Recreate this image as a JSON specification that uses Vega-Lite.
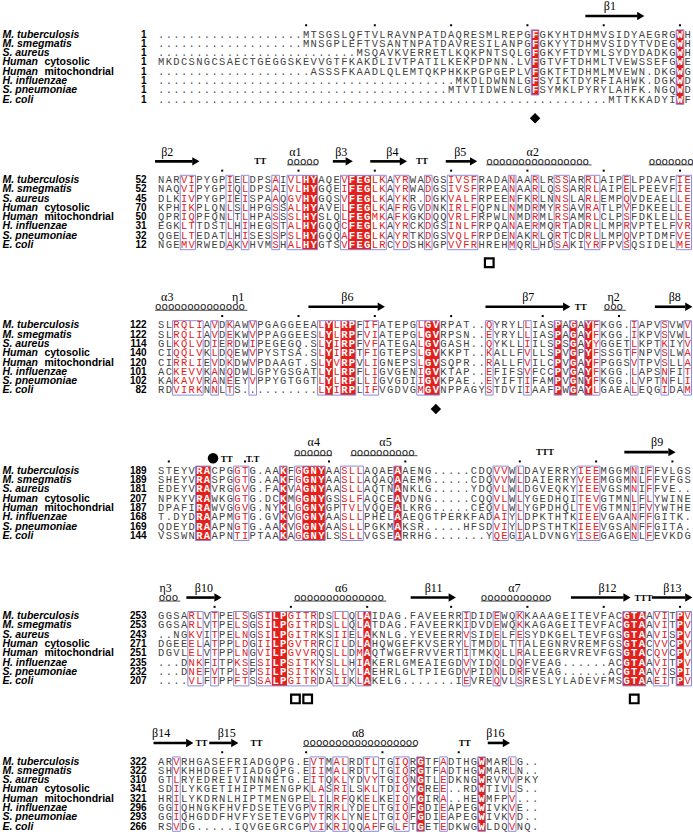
{
"$schema": "https://vega.github.io/schema/vega-lite/v6.json",
"padding": 0,
"bounds": "flush",
"background": "white",
"config": {"view": {"stroke": null}},
"data": {"values": [
{"t":"s","b":1,"r":1,"n":"M. tuberculosis","num":"1","s":[".",".",".",".",".",".",".",".",".",".",".",".",".",".",".",".",".",".",".","M","T","S","G","S","L","Q","F","T","V","L","R","A","V","N","P","A","T","D","A","Q","R","E","S","M","L","R","E","P","G","F","G","K","Y","H","T","D","H","M","V","S","I","D","Y","A","E","G","R","G","W","H"]},
{"t":"s","b":1,"r":2,"n":"M. smegmatis","num":"1","s":[".",".",".",".",".",".",".",".",".",".",".",".",".",".",".",".",".",".",".","M","N","S","G","P","L","E","F","T","V","S","A","N","T","N","P","A","T","D","A","V","R","E","S","I","L","A","N","P","G","F","G","K","Y","Y","T","D","H","M","V","S","I","D","Y","T","V","D","E","G","W","H"]},
{"t":"s","b":1,"r":3,"n":"S. aureus","num":"1","s":[".",".",".",".",".",".",".",".",".",".",".",".",".",".",".",".",".",".",".",".",".",".",".",".",".",".","M","S","Q","A","V","K","V","E","R","R","E","T","L","K","Q","K","P","N","T","S","Q","L","G","F","G","K","Y","F","T","D","Y","M","L","S","Y","D","Y","D","A","D","K","G","W","H"]},
{"t":"s","b":1,"r":4,"n":"Human","n2":"cytosolic","num":"1","s":["M","K","D","C","S","N","G","C","S","A","E","C","T","G","E","G","G","S","K","E","V","V","G","T","F","K","A","K","D","L","I","V","T","P","A","T","I","L","K","E","K","P","D","P","N","N",".","L","V","F","G","T","V","F","T","D","H","M","L","T","V","E","W","S","S","E","F","G","W","E"]},
{"t":"s","b":1,"r":5,"n":"Human","n2":"mitochondrial","num":"1","s":[".",".",".",".",".",".",".",".",".",".",".",".",".",".",".",".",".",".",".",".","A","S","S","S","F","K","A","A","D","L","Q","L","E","M","T","Q","K","P","H","K","K","P","G","P","G","E","P","L","V","F","G","K","T","F","T","D","H","M","L","M","V","E","W","N",".","D","K","G","W","G"]},
{"t":"s","b":1,"r":6,"n":"H. influenzae","num":"1","s":[".",".",".",".",".",".",".",".",".",".",".",".",".",".",".",".",".",".",".",".",".",".",".",".",".",".",".",".",".",".",".",".",".",".",".",".",".",".",".","M","K","D","L","D","W","N","N","L","G","F","S","Y","I","K","T","D","Y","R","F","I","A","H","W","K",".","D","G","K","W","D"]},
{"t":"s","b":1,"r":7,"n":"S. pneumoniae","num":"1","s":[".",".",".",".",".",".",".",".",".",".",".",".",".",".",".",".",".",".",".",".",".",".",".",".",".",".",".",".",".",".",".",".",".",".",".",".",".",".","M","T","V","T","I","D","W","E","N","L","G","F","S","Y","M","K","L","P","Y","R","Y","L","A","H","F","K",".","N","G","Q","W","D"]},
{"t":"s","b":1,"r":8,"n":"E. coli","num":"1","s":[".",".",".",".",".",".",".",".",".",".",".",".",".",".",".",".",".",".",".",".",".",".",".",".",".",".",".",".",".",".",".",".",".",".",".",".",".",".",".",".",".",".",".",".",".",".",".",".",".",".",".",".",".",".",".",".",".",".",".","M","T","T","K","K","A","D","Y","I","W","F"]},
{"t":"s","b":2,"r":1,"n":"M. tuberculosis","num":"52","s":["N","A","R","V","I","P","Y","G","P","I","E","L","D","P","S","A","I","V","L","H","Y","A","Q","E","V","F","E","G","L","K","A","Y","R","W","A","D","G","S","I","V","S","F","R","A","D","A","N","A","A","R","L","R","S","S","A","R","R","L","A","I","P","E","L","P","D","A","V","F","I","E"]},
{"t":"s","b":2,"r":2,"n":"M. smegmatis","num":"52","s":["N","A","Q","V","I","P","Y","G","P","I","Q","L","D","P","S","A","I","V","L","H","Y","G","Q","E","I","F","E","G","L","K","A","Y","R","W","A","D","G","S","I","V","S","F","R","P","E","A","N","A","A","R","L","Q","S","S","A","R","R","L","A","I","P","E","L","P","E","E","V","F","I","E"]},
{"t":"s","b":2,"r":3,"n":"S. aureus","num":"45","s":["D","L","K","I","V","P","Y","G","P","I","E","I","S","P","A","A","Q","G","V","H","Y","G","Q","S","V","F","E","G","L","K","A","Y","K","R",".","D","G","K","V","A","L","F","R","P","E","E","N","F","K","R","L","N","N","S","L","A","R","L","E","M","P","Q","V","D","E","A","E","L","L","E"]},
{"t":"s","b":2,"r":4,"n":"Human","n2":"cytosolic","num":"70","s":["K","P","H","I","K","P","L","Q","N","L","S","L","H","P","G","S","S","A","L","H","Y","A","V","E","L","F","E","G","L","K","A","F","R","G","V","D","N","K","I","R","L","F","Q","P","N","L","N","M","D","R","M","Y","R","S","A","V","R","A","T","L","P","V","F","D","K","E","E","L","L","E"]},
{"t":"s","b":2,"r":5,"n":"Human","n2":"mitochondrial","num":"50","s":["Q","P","R","I","Q","P","F","Q","N","L","T","L","H","P","A","S","S","S","L","H","Y","S","L","Q","L","F","E","G","M","K","A","F","K","G","K","D","Q","Q","V","R","L","F","R","P","W","L","N","M","D","R","M","L","R","S","A","M","R","L","C","L","P","S","F","D","K","L","E","L","L","E"]},
{"t":"s","b":2,"r":6,"n":"H. influenzae","num":"31","s":["E","G","K","L","T","T","D","S","T","L","H","I","H","E","G","S","T","A","L","H","Y","G","Q","Q","C","F","E","G","L","K","A","Y","R","C","K","D","G","S","I","N","L","F","R","P","Q","A","N","A","E","R","M","Q","R","T","A","D","R","L","L","M","P","R","V","P","T","E","L","F","V","R"]},
{"t":"s","b":2,"r":7,"n":"S. pneumoniae","num":"32","s":["Q","G","E","L","T","E","D","A","T","L","H","I","S","E","S","S","P","S","L","H","Y","G","Q","Q","A","F","E","G","L","K","A","Y","R","T","K","D","G","S","V","Q","L","F","R","P","D","E","N","A","K","R","L","Q","R","T","C","D","R","L","L","M","P","Q","V","P","T","D","M","F","V","E"]},
{"t":"s","b":2,"r":8,"n":"E. coli","num":"12","s":["N","G","E","M","V","R","W","E","D","A","K","V","H","V","M","S","H","A","L","H","Y","G","T","S","V","F","E","G","L","R","C","Y","D","S","H","K","G","P","V","V","F","R","H","R","E","H","M","Q","R","L","H","D","S","A","K","I","Y","R","F","P","V","S","Q","S","I","D","E","L","M","E"]},
{"t":"s","b":3,"r":1,"n":"M. tuberculosis","num":"122","s":["S","L","R","Q","L","I","A","V","D","K","A","W","V","P","G","A","G","G","E","E","A","L","Y","L","R","P","F","I","F","A","T","E","P","G","L","G","V","R","P","A","T",".",".","Q","Y","R","Y","L","L","I","A","S","P","A","G","A","Y","F","K","G","G",".","I","A","P","V","S","V","W","V"]},
{"t":"s","b":3,"r":2,"n":"M. smegmatis","num":"122","s":["S","L","R","Q","L","I","A","V","D","E","K","W","V","P","P","A","G","G","E","E","S","L","Y","L","R","P","F","V","I","A","T","E","P","G","L","G","V","R","P","S","N",".",".","E","Y","R","Y","L","L","I","A","S","P","A","G","A","Y","F","K","G","G",".","I","K","P","V","S","V","W","L"]},
{"t":"s","b":3,"r":3,"n":"S. aureus","num":"114","s":["G","L","K","Q","L","V","D","I","E","R","D","W","I","P","E","G","E","G","Q",".","S","L","Y","I","R","P","F","V","F","A","T","E","G","A","L","G","V","G","A","S","H",".",".","Q","Y","K","L","L","I","I","L","S","P","S","G","A","Y","Y","G","G","E","T","L","K","P","T","K","I","Y","V"]},
{"t":"s","b":3,"r":4,"n":"Human","n2":"cytosolic","num":"140","s":["C","I","Q","Q","L","V","K","L","D","Q","E","W","V","P","Y","S","T","S","A",".","S","L","Y","I","R","P","T","F","I","G","T","E","P","S","L","G","V","K","K","P","T",".",".","K","A","L","L","F","V","L","L","S","P","V","G","P","Y","F","S","S","G","T","F","N","P","V","S","L","W","A"]},
{"t":"s","b":3,"r":5,"n":"Human","n2":"mitochondrial","num":"120","s":["C","I","R","R","L","I","E","V","D","K","D","W","V","P","D","A","A","G","T",".","S","L","Y","V","R","P","V","L","I","G","N","E","P","S","L","G","V","S","Q","P","R",".",".","R","A","L","L","F","V","I","L","C","P","V","G","A","Y","F","P","G","G","S","V","T","P","V","S","L","L","A"]},
{"t":"s","b":3,"r":6,"n":"H. influenzae","num":"101","s":["A","C","K","E","V","V","K","A","N","Q","D","W","L","G","P","Y","G","S","G","A","T","L","Y","L","R","P","F","L","I","G","V","G","E","N","I","G","V","K","T","A","P",".",".","E","F","I","F","S","V","F","C","C","P","V","G","A","Y","F","K","G","G",".","L","A","P","S","N","F","I","T"]},
{"t":"s","b":3,"r":7,"n":"S. pneumoniae","num":"102","s":["K","A","K","A","V","V","R","A","N","E","E","Y","V","P","P","Y","G","T","G","G","T","L","Y","L","R","P","L","L","I","G","V","G","D","I","I","G","V","K","P","A","E",".",".","E","Y","I","F","T","I","F","A","M","P","V","G","N","Y","F","K","G","G",".","L","V","P","T","N","F","L","I"]},
{"t":"s","b":3,"r":8,"n":"E. coli","num":"82","s":["R","D","V","I","R","K","N","N","L","T","S",".",".",".",".",".",".",".",".",".",".","L","Y","I","R","P","L","I","F","V","G","D","V","G","M","G","V","N","P","P","A","G","Y","S","T","D","V","I","I","A","A","F","P","W","G","A","Y","L","G","A","E","A","L","E","Q","G","I","D","A","M"]},
{"t":"s","b":4,"r":1,"n":"M. tuberculosis","num":"189","s":["S","T","E","Y","V","R","A","C","P","G","G","T","G",".","A","A","K","F","G","G","N","Y","A","A","S","L","L","A","Q","A","E","A","A","E","N","G",".",".",".",".",".","C","D","Q","V","V","W","L","D","A","V","E","R","R","Y","I","E","E","M","G","G","M","N","I","F","F","V","L","G","S"]},
{"t":"s","b":4,"r":2,"n":"M. smegmatis","num":"189","s":["S","H","E","Y","V","R","A","S","P","G","G","T","G",".","A","A","K","F","G","G","N","Y","A","A","S","L","L","A","Q","A","Q","A","A","E","M","G",".",".",".",".",".","C","D","Q","V","V","W","L","D","A","I","E","R","R","Y","V","E","E","M","G","G","M","N","L","F","F","V","F","G","S"]},
{"t":"s","b":4,"r":3,"n":"S. aureus","num":"181","s":["E","D","E","Y","V","R","A","V","R","G","G","V","G",".","F","A","K","V","A","G","N","Y","A","A","S","L","L","A","Q","T","N","A","N","K","L","G",".",".",".",".",".","Y","D","Q","V","L","W","L","D","G","V","E","Q","K","Y","I","E","E","V","G","S","M","N","I","F","F","V","E",".","."]},
{"t":"s","b":4,"r":4,"n":"Human","n2":"cytosolic","num":"207","s":["N","P","K","Y","V","R","A","W","K","G","G","T","G",".","D","C","K","M","G","G","N","Y","G","S","S","L","F","A","Q","C","E","A","V","D","N","G",".",".",".",".",".","C","Q","Q","V","L","W","L","Y","G","E","D","H","Q","I","T","E","V","G","T","M","N","L","F","L","Y","W","I","N","E"]},
{"t":"s","b":4,"r":5,"n":"Human","n2":"mitochondrial","num":"187","s":["D","P","A","F","I","R","A","W","V","G","G","V","G",".","N","Y","K","L","G","G","N","Y","G","P","T","V","L","V","Q","Q","E","A","L","K","R","G",".",".",".",".",".","C","E","Q","V","L","W","L","Y","G","P","D","H","Q","L","T","E","V","G","T","M","N","I","F","V","Y","W","T","H","E"]},
{"t":"s","b":4,"r":6,"n":"H. influenzae","num":"168","s":["T",".","D","Y","D","R","A","A","P","M","G","T","G",".","G","V","K","V","G","G","N","Y","A","A","S","L","L","P","H","E","L","A","A","E","Q","G","T","P","E","R","K","F","A","D","A","I","Y","L","D","P","K","T","H","T","K","I","E","E","V","G","A","A","N","F","F","G","I","T","K","."]},
{"t":"s","b":4,"r":7,"n":"S. pneumoniae","num":"169","s":["Q","D","E","Y","D","R","A","A","P","N","G","T","G",".","A","A","K","V","G","G","N","Y","A","A","S","L","L","P","G","K","M","A","K","S","R",".",".",".",".",".","H","F","S","D","V","I","Y","L","D","P","S","T","H","T","K","I","E","E","V","G","S","A","N","F","F","G","I","T","A","."]},
{"t":"s","b":4,"r":8,"n":"E. coli","num":"144","s":["V","S","S","W","N","R","A","A","P","N","T","I","P","T","A","A","K","A","G","G","N","Y","L","S","S","L","L","V","G","S","E","A","R","R","H","G",".",".",".",".",".",".",".","Y","Q","E","G","I","A","L","D","V","N","G","Y","I","S","E","G","A","G","E","N","L","F","E","V","K","D","G"]},
{"t":"s","b":5,"r":1,"n":"M. tuberculosis","num":"253","s":["G","G","S","A","R","L","V","T","P","E","L","S","G","S","I","L","P","G","I","T","R","D","S","L","L","Q","L","A","I","D","A","G",".","F","A","V","E","E","R","R","I","D","I","D","E","W","Q","K","K","A","A","A","G","E","I","T","E","V","F","A","C","G","T","A","A","V","I","T","P","V"]},
{"t":"s","b":5,"r":2,"n":"M. smegmatis","num":"253","s":["G","G","S","A","R","L","V","T","P","E","L","S","G","S","I","L","P","G","I","T","R","D","S","L","L","Q","L","A","T","D","A","G",".","F","A","V","E","E","R","K","I","D","V","D","E","W","Q","K","K","A","G","A","G","E","I","T","E","V","F","A","C","G","T","A","A","V","I","T","P","V"]},
{"t":"s","b":5,"r":3,"n":"S. aureus","num":"243","s":[".",".","N","G","K","V","I","T","P","E","L","N","G","S","I","L","P","G","I","T","R","K","S","I","I","E","L","A","K","N","L","G",".","Y","E","V","E","E","R","R","V","S","I","D","E","L","F","E","S","Y","D","K","G","E","L","T","E","V","F","G","S","G","T","A","A","V","I","S","P","V"]},
{"t":"s","b":5,"r":4,"n":"Human","n2":"cytosolic","num":"271","s":["D","G","E","E","E","L","A","T","P","P","L","D","G","I","I","L","P","G","V","T","R","R","C","I","L","D","L","A","H","Q","W","G","E","F","K","V","S","E","R","Y","L","T","M","D","D","L","T","T","A","L","E","G","N","R","V","R","E","M","F","G","S","G","T","A","C","V","V","C","P","V"]},
{"t":"s","b":5,"r":5,"n":"Human","n2":"mitochondrial","num":"251","s":["D","G","V","L","E","L","V","T","P","P","L","N","G","V","I","L","P","G","V","V","R","Q","S","L","L","D","M","A","Q","T","W","G","E","F","R","V","V","E","R","T","I","T","M","K","Q","L","L","R","A","L","E","E","G","R","V","R","E","V","F","G","S","G","T","A","C","Q","V","C","P","V"]},
{"t":"s","b":5,"r":6,"n":"H. influenzae","num":"235","s":[".",".",".","D","N","K","F","I","T","P","K","S","E","S","I","L","P","S","I","T","K","Y","S","L","L","H","I","A","K","E","R","L","G","M","E","A","I","E","G","D","V","Y","I","D","Q","L","D","Q","F","V","E","A","G",".",".",".",".",".",".","A","C","G","T","A","A","V","I","T","P","V"]},
{"t":"s","b":5,"r":7,"n":"S. pneumoniae","num":"232","s":[".",".",".","D","N","E","F","V","T","P","L","S","P","S","I","L","P","S","I","T","K","Y","S","L","L","Y","L","A","E","H","R","L","G","L","T","P","I","E","G","D","V","P","I","D","N","L","D","R","F","V","E","A","G",".",".",".",".",".",".","A","C","G","T","A","A","V","I","S","P","I"]},
{"t":"s","b":5,"r":8,"n":"E. coli","num":"207","s":[".",".",".",".","V","L","F","T","P","P","F","T","S","S","A","L","P","G","I","T","R","D","A","I","I","K","L","A","K","E","L","G",".",".",".",".",".",".",".","I","E","V","R","E","Q","V","L","S","R","E","S","L","Y","L","A","D","E","V","F","M","S","G","T","A","A","E","I","T","P","V"]},
{"t":"s","b":6,"r":1,"n":"M. tuberculosis","num":"322","s":["A","R","V","R","H","G","A","S","E","F","R","I","A","D","G","Q","P","G",".","E","V","T","M","A","L","R","D","T","L","T","G","I","Q","R","G","T","F","A","D","T","H","G","W","M","A","R","L","G",".","."]},
{"t":"s","b":6,"r":2,"n":"M. smegmatis","num":"322","s":["S","H","V","K","H","H","D","G","E","F","T","I","A","D","G","Q","P","G",".","E","I","I","M","A","L","R","D","T","L","T","G","I","Q","R","G","T","F","A","D","T","H","G","W","M","A","R","L","N",".","."]},
{"t":"s","b":6,"r":3,"n":"S. aureus","num":"310","s":["G","T","L","R","Y","E","D","R","E","I","V","I","N","N","N","E","T","G",".","E","I","T","Q","K","L","Y","D","V","Y","T","G","I","Q","N","G","T","L","E","D","K","N","G","W","R","V","V","V","P","K","Y"]},
{"t":"s","b":6,"r":4,"n":"Human","n2":"cytosolic","num":"341","s":["S","D","I","L","Y","K","G","E","T","I","H","I","P","T","M","E","N","G","P","K","L","A","S","R","I","L","S","K","L","T","D","I","Q","Y","G","R","E","E",".",".","R","D","W","T","I","V","L","S",".","."]},
{"t":"s","b":6,"r":5,"n":"Human","n2":"mitochondrial","num":"321","s":["H","R","I","L","Y","K","D","R","N","L","H","I","P","T","M","E","N","G","P","E","L","I","L","R","F","Q","K","E","L","K","E","I","Q","Y","G","I","R","A",".",".","H","E","W","M","F","P","V",".",".","."]},
{"t":"s","b":6,"r":6,"n":"H. influenzae","num":"296","s":["G","G","I","Q","H","N","G","K","F","H","V","F","D","S","E","T","E","V","G","P","V","T","R","R","L","Y","D","E","L","T","G","I","Q","F","G","D","I","E","A","P","E","G","W","I","V","K","V","E",".","."]},
{"t":"s","b":6,"r":7,"n":"S. pneumoniae","num":"293","s":["G","G","I","Q","H","G","D","D","F","H","V","F","Y","S","E","T","E","V","G","P","V","T","R","K","L","Y","N","E","L","T","G","I","Q","F","G","D","I","E","A","P","E","G","W","I","V","K","V","D",".","."]},
{"t":"s","b":6,"r":8,"n":"E. coli","num":"266","s":["R","S","V","D","G",".",".",".",".",".","I","Q","V","G","E","G","R","C","G","P","V","I","K","R","I","Q","Q","A","F","F","G","L","F","T","G","E","T","E","D","K","W","G","W","L","D","Q","V","N","Q","."]},

{"t":"red","b":1,"x1":49.5,"x2":50.5,"y1":0.5,"y2":7.5},
{"t":"red","b":1,"x1":68.5,"x2":69.5,"y1":0.5,"y2":8.5},
{"t":"red","b":2,"x1":19.5,"x2":21.5,"y1":0.5,"y2":8.5},
{"t":"red","b":2,"x1":25.5,"x2":28.5,"y1":0.5,"y2":8.5},
{"t":"red","b":3,"x1":22.5,"x2":23.5,"y1":0.5,"y2":8.5},
{"t":"red","b":3,"x1":24.5,"x2":26.5,"y1":0.5,"y2":8.5},
{"t":"red","b":3,"x1":35.5,"x2":37.5,"y1":0.5,"y2":8.5},
{"t":"red","b":3,"x1":52.5,"x2":53.5,"y1":0.5,"y2":8.5},
{"t":"red","b":3,"x1":54.5,"x2":55.5,"y1":0.5,"y2":8.5},
{"t":"red","b":3,"x1":56.5,"x2":57.5,"y1":0.5,"y2":8.5},
{"t":"red","b":4,"x1":5.5,"x2":7.5,"y1":0.5,"y2":8.5},
{"t":"red","b":4,"x1":16.5,"x2":17.5,"y1":0.5,"y2":8.5},
{"t":"red","b":4,"x1":19.5,"x2":22.5,"y1":0.5,"y2":8.5},
{"t":"red","b":4,"x1":31.5,"x2":32.5,"y1":0.5,"y2":8.5},
{"t":"red","b":5,"x1":15.5,"x2":17.5,"y1":0.5,"y2":8.5},
{"t":"red","b":5,"x1":27.5,"x2":28.5,"y1":0.5,"y2":8.5},
{"t":"red","b":5,"x1":61.5,"x2":64.5,"y1":0.5,"y2":8.5},
{"t":"red","b":5,"x1":68.5,"x2":69.5,"y1":0.5,"y2":8.5},
{"t":"red","b":6,"x1":34.5,"x2":35.5,"y1":0.5,"y2":8.5},
{"t":"red","b":6,"x1":42.5,"x2":43.5,"y1":0.5,"y2":8.5},

{"t":"box","b":1,"x1":49.5,"x2":50.5,"y1":0.5,"y2":7.5},
{"t":"box","b":1,"x1":68.5,"x2":69.5,"y1":0.5,"y2":8.5},
{"t":"box","b":2,"x1":3.5,"x2":5.5,"y1":0.5,"y2":8.5},
{"t":"box","b":2,"x1":9.5,"x2":10.5,"y1":0.5,"y2":8.5},
{"t":"box","b":2,"x1":11.5,"x2":12.5,"y1":0.5,"y2":8.5},
{"t":"box","b":2,"x1":15.5,"x2":16.5,"y1":0.5,"y2":8.5},
{"t":"box","b":2,"x1":17.5,"x2":21.5,"y1":0.5,"y2":8.5},
{"t":"box","b":2,"x1":24.5,"x2":30.5,"y1":0.5,"y2":8.5},
{"t":"box","b":2,"x1":31.5,"x2":33.5,"y1":0.5,"y2":8.5},
{"t":"box","b":2,"x1":35.5,"x2":36.5,"y1":0.5,"y2":8.5},
{"t":"box","b":2,"x1":38.5,"x2":42.5,"y1":0.5,"y2":8.5},
{"t":"box","b":2,"x1":46.5,"x2":47.5,"y1":0.5,"y2":8.5},
{"t":"box","b":2,"x1":49.5,"x2":50.5,"y1":0.5,"y2":8.5},
{"t":"box","b":2,"x1":52.5,"x2":54.5,"y1":0.5,"y2":8.5},
{"t":"box","b":2,"x1":56.5,"x2":58.5,"y1":0.5,"y2":8.5},
{"t":"box","b":2,"x1":61.5,"x2":62.5,"y1":0.5,"y2":8.5},
{"t":"box","b":2,"x1":68.5,"x2":70.5,"y1":0.5,"y2":8.5},
{"t":"box","b":3,"x1":2.5,"x2":6.5,"y1":0.5,"y2":8.5},
{"t":"box","b":3,"x1":7.5,"x2":8.5,"y1":0.5,"y2":8.5},
{"t":"box","b":3,"x1":9.5,"x2":10.5,"y1":0.5,"y2":8.5},
{"t":"box","b":3,"x1":12.5,"x2":13.5,"y1":0.5,"y2":8.5},
{"t":"box","b":3,"x1":21.5,"x2":26.5,"y1":0.5,"y2":8.5},
{"t":"box","b":3,"x1":27.5,"x2":29.5,"y1":0.5,"y2":8.5},
{"t":"box","b":3,"x1":34.5,"x2":37.5,"y1":0.5,"y2":8.5},
{"t":"box","b":3,"x1":43.5,"x2":44.5,"y1":0.5,"y2":8.5},
{"t":"box","b":3,"x1":48.5,"x2":49.5,"y1":0.5,"y2":8.5},
{"t":"box","b":3,"x1":52.5,"x2":53.5,"y1":0.5,"y2":8.5},
{"t":"box","b":3,"x1":54.5,"x2":55.5,"y1":0.5,"y2":8.5},
{"t":"box","b":3,"x1":56.5,"x2":58.5,"y1":0.5,"y2":8.5},
{"t":"box","b":3,"x1":62.5,"x2":63.5,"y1":0.5,"y2":8.5},
{"t":"box","b":3,"x1":66.5,"x2":67.5,"y1":0.5,"y2":8.5},
{"t":"box","b":3,"x1":69.5,"x2":70.5,"y1":0.5,"y2":8.5},
{"t":"box","b":4,"x1":5.5,"x2":7.5,"y1":0.5,"y2":8.5},
{"t":"box","b":4,"x1":10.5,"x2":12.5,"y1":0.5,"y2":8.5},
{"t":"box","b":4,"x1":16.5,"x2":17.5,"y1":0.5,"y2":8.5},
{"t":"box","b":4,"x1":18.5,"x2":22.5,"y1":0.5,"y2":8.5},
{"t":"box","b":4,"x1":24.5,"x2":27.5,"y1":0.5,"y2":8.5},
{"t":"box","b":4,"x1":31.5,"x2":32.5,"y1":0.5,"y2":8.5},
{"t":"box","b":4,"x1":44.5,"x2":46.5,"y1":0.5,"y2":8.5},
{"t":"box","b":4,"x1":47.5,"x2":48.5,"y1":0.5,"y2":8.5},
{"t":"box","b":4,"x1":55.5,"x2":58.5,"y1":0.5,"y2":8.5},
{"t":"box","b":4,"x1":62.5,"x2":63.5,"y1":0.5,"y2":8.5},
{"t":"box","b":4,"x1":64.5,"x2":65.5,"y1":0.5,"y2":8.5},
{"t":"box","b":5,"x1":4.5,"x2":6.5,"y1":0.5,"y2":8.5},
{"t":"box","b":5,"x1":7.5,"x2":8.5,"y1":0.5,"y2":8.5},
{"t":"box","b":5,"x1":10.5,"x2":12.5,"y1":0.5,"y2":8.5},
{"t":"box","b":5,"x1":13.5,"x2":21.5,"y1":0.5,"y2":8.5},
{"t":"box","b":5,"x1":23.5,"x2":25.5,"y1":0.5,"y2":8.5},
{"t":"box","b":5,"x1":26.5,"x2":28.5,"y1":0.5,"y2":8.5},
{"t":"box","b":5,"x1":40.5,"x2":41.5,"y1":0.5,"y2":8.5},
{"t":"box","b":5,"x1":44.5,"x2":45.5,"y1":0.5,"y2":8.5},
{"t":"box","b":5,"x1":47.5,"x2":48.5,"y1":0.5,"y2":8.5},
{"t":"box","b":5,"x1":61.5,"x2":64.5,"y1":0.5,"y2":8.5},
{"t":"box","b":5,"x1":65.5,"x2":67.5,"y1":0.5,"y2":8.5},
{"t":"box","b":5,"x1":68.5,"x2":70.5,"y1":0.5,"y2":8.5},
{"t":"box","b":6,"x1":2.5,"x2":3.5,"y1":0.5,"y2":8.5},
{"t":"box","b":6,"x1":20.5,"x2":22.5,"y1":0.5,"y2":8.5},
{"t":"box","b":6,"x1":23.5,"x2":25.5,"y1":0.5,"y2":8.5},
{"t":"box","b":6,"x1":27.5,"x2":29.5,"y1":0.5,"y2":8.5},
{"t":"box","b":6,"x1":31.5,"x2":33.5,"y1":0.5,"y2":8.5},
{"t":"box","b":6,"x1":34.5,"x2":35.5,"y1":0.5,"y2":8.5},
{"t":"box","b":6,"x1":37.5,"x2":38.5,"y1":0.5,"y2":8.5},
{"t":"box","b":6,"x1":42.5,"x2":43.5,"y1":0.5,"y2":8.5},
{"t":"box","b":6,"x1":46.5,"x2":47.5,"y1":0.5,"y2":8.5},

{"t":"lab","b":1,"c":59.8,"txt":"β1"},
{"t":"lab","b":2,"c":1.8,"txt":"β2"},
{"t":"lab","b":2,"c":18.6,"txt":"α1"},
{"t":"lab","b":2,"c":24.6,"txt":"β3"},
{"t":"lab","b":2,"c":31.3,"txt":"β4"},
{"t":"lab","b":2,"c":40.2,"txt":"β5"},
{"t":"lab","b":2,"c":49.7,"txt":"α2"},
{"t":"lab","b":3,"c":1.8,"txt":"α3"},
{"t":"lab","b":3,"c":11.1,"txt":"η1"},
{"t":"lab","b":3,"c":25.4,"txt":"β6"},
{"t":"lab","b":3,"c":49.1,"txt":"β7"},
{"t":"lab","b":3,"c":60.3,"txt":"η2"},
{"t":"lab","b":3,"c":68.3,"txt":"β8"},
{"t":"lab","b":4,"c":21,"txt":"α4"},
{"t":"lab","b":4,"c":30.4,"txt":"α5"},
{"t":"lab","b":4,"c":66,"txt":"β9"},
{"t":"lab","b":5,"c":1.6,"txt":"η3"},
{"t":"lab","b":5,"c":6.6,"txt":"β10"},
{"t":"lab","b":5,"c":24.6,"txt":"α6"},
{"t":"lab","b":5,"c":36.7,"txt":"β11"},
{"t":"lab","b":5,"c":47.3,"txt":"α7"},
{"t":"lab","b":5,"c":59.5,"txt":"β12"},
{"t":"lab","b":5,"c":68,"txt":"β13"},
{"t":"lab","b":6,"c":1,"txt":"β14"},
{"t":"lab","b":6,"c":9.6,"txt":"β15"},
{"t":"lab","b":6,"c":26.8,"txt":"α8"},
{"t":"lab","b":6,"c":44.8,"txt":"β16"},

{"t":"arr","b":1,"x1":56.6,"x2":63.4,"h":63.85},
{"t":"arr","b":2,"x1":0.2,"x2":5.1,"h":5.55},
{"t":"arr","b":2,"x1":23.5,"x2":25.2,"h":25.65},
{"t":"arr","b":2,"x1":28.4,"x2":32.3,"h":32.75},
{"t":"arr","b":2,"x1":38.3,"x2":41.5,"h":41.95},
{"t":"arr","b":3,"x1":20.3,"x2":29.4,"h":29.85},
{"t":"arr","b":3,"x1":43.5,"x2":53.7,"h":54.15},
{"t":"arr","b":3,"x1":65.7,"x2":69.7,"h":70.15},
{"t":"arr","b":4,"x1":61.7,"x2":67.5,"h":67.95},
{"t":"arr","b":5,"x1":4.3,"x2":8,"h":8.45},
{"t":"arr","b":5,"x1":33.7,"x2":38.7,"h":39.15},
{"t":"arr","b":5,"x1":54.7,"x2":61.6,"h":62.05},
{"t":"arr","b":5,"x1":65.3,"x2":69.7,"h":70.15},
{"t":"arr","b":6,"x1":0,"x2":4.3,"h":4.75},
{"t":"arr","b":6,"x1":7.3,"x2":10.2,"h":10.65},
{"t":"arr","b":6,"x1":43.8,"x2":45.8,"h":46.25},

{"t":"coil","b":2,"x1":17.5,"x2":21.5,"txt":"ooooo"},
{"t":"coil","b":2,"x1":43.6,"x2":57.4,"txt":"oooooooooooooooo"},
{"t":"coil","b":2,"x1":64.9,"x2":70.7,"txt":"ooooooo"},
{"t":"coil","b":3,"x1":0.2,"x2":12.3,"txt":"oooooooooooooo"},
{"t":"coil","b":3,"x1":59,"x2":61.9,"txt":"ooo"},
{"t":"coil","b":4,"x1":18.4,"x2":23.4,"txt":"oooooo"},
{"t":"coil","b":4,"x1":25.8,"x2":34.6,"txt":"oooooooooo"},
{"t":"coil","b":5,"x1":0.7,"x2":3.5,"txt":"ooo"},
{"t":"coil","b":5,"x1":18.4,"x2":30.5,"txt":"oooooooooooooo"},
{"t":"coil","b":5,"x1":42.9,"x2":51.8,"txt":"ooooooooooo"},
{"t":"coil","b":6,"x1":19.6,"x2":34.5,"txt":"oooooooooooooooooo"},

{"t":"tt","b":2,"c":14,"y":-1,"txt":"TT"},
{"t":"tt","b":2,"c":35.2,"y":-1,"txt":"TT"},
{"t":"tt","b":3,"c":56,"y":-1,"txt":"TT"},
{"t":"tt","b":4,"c":9.6,"y":-0.25,"txt":"TT"},
{"t":"tt","b":4,"c":13,"y":-0.25,"txt":"T.T"},
{"t":"tt","b":4,"c":51.3,"y":-1,"txt":"TTT"},
{"t":"tt","b":5,"c":64.2,"y":-1,"txt":"TTT"},
{"t":"tt","b":6,"c":6.3,"y":-1,"txt":"TT"},
{"t":"tt","b":6,"c":13.5,"y":-1,"txt":"TT"},
{"t":"tt","b":6,"c":40.8,"y":-1,"txt":"TT"},

{"t":"dot","b":1,"c":20},{"t":"dot","b":1,"c":29},{"t":"dot","b":1,"c":39},{"t":"dot","b":1,"c":49},{"t":"dot","b":1,"c":59},{"t":"dot","b":1,"c":69},
{"t":"dot","b":2,"c":9},{"t":"dot","b":2,"c":19},{"t":"dot","b":2,"c":29},{"t":"dot","b":2,"c":39},{"t":"dot","b":2,"c":49},{"t":"dot","b":2,"c":59},{"t":"dot","b":2,"c":69},
{"t":"dot","b":3,"c":9},{"t":"dot","b":3,"c":19},{"t":"dot","b":3,"c":29},{"t":"dot","b":3,"c":39},{"t":"dot","b":3,"c":51},{"t":"dot","b":3,"c":61},
{"t":"dot","b":4,"c":2},{"t":"dot","b":4,"c":12},{"t":"dot","b":4,"c":23},{"t":"dot","b":4,"c":33},{"t":"dot","b":4,"c":48},{"t":"dot","b":4,"c":58},{"t":"dot","b":4,"c":68},
{"t":"dot","b":5,"c":8},{"t":"dot","b":5,"c":18},{"t":"dot","b":5,"c":28},{"t":"dot","b":5,"c":39},{"t":"dot","b":5,"c":49},{"t":"dot","b":5,"c":59},{"t":"dot","b":5,"c":69},
{"t":"dot","b":6,"c":9},{"t":"dot","b":6,"c":20},{"t":"dot","b":6,"c":30},{"t":"dot","b":6,"c":40},

{"t":"dia","b":1,"c":50},
{"t":"dia","b":3,"c":37},
{"t":"sq","b":2,"c":44},
{"t":"sq","b":5,"c":18.6},
{"t":"sq","b":5,"c":20.2},
{"t":"sq","b":5,"c":63},
{"t":"cir","b":4,"c":7.8,"y":-0.35}
]},
"facet": {"row": {"field": "b", "type": "ordinal", "header": {"labels": false, "title": null}}},
"spacing": {"row": 37.4},
"spec": {
"width": 693,
"height": 108,
"layer": [
{"transform": [{"filter": "datum.t=='red'"}],
 "mark": {"type": "rect", "color": "#e3211c"},
 "encoding": {
  "x": {"field": "x1", "type": "quantitative", "scale": {"domain": [-20.12, 70.7], "nice": false, "zero": false}, "axis": null},
  "x2": {"field": "x2"},
  "y": {"field": "y1", "type": "quantitative", "scale": {"domain": [-2.5, 9.113], "reverse": true, "nice": false, "zero": false}, "axis": null},
  "y2": {"field": "y2"}}},
{"transform": [{"filter": "datum.t=='box'"}],
 "mark": {"type": "rect", "fill": "transparent", "stroke": "#8b8bdc", "strokeWidth": 1},
 "encoding": {
  "x": {"field": "x1", "type": "quantitative", "scale": {"domain": [-20.12, 70.7], "nice": false, "zero": false}, "axis": null},
  "x2": {"field": "x2"},
  "y": {"field": "y1", "type": "quantitative", "scale": {"domain": [-2.5, 9.113], "reverse": true, "nice": false, "zero": false}, "axis": null},
  "y2": {"field": "y2"}}},
{"transform": [{"filter": "datum.t=='s'"}, {"flatten": ["s"]}, {"window": [{"op": "row_number", "as": "c"}], "groupby": ["b", "r"]},
  {"filter": "datum.s=='.' || indexof([[50,69],[20,21,26,27,28],[23,25,26,36,37,53,55,57],[6,7,17,20,21,22,32],[16,17,28,62,63,64,69],[35,43]][datum.b-1], datum.c) < 0"}],
 "mark": {"type": "text", "font": "Liberation Mono", "fontSize": 10.5, "baseline": "middle", "align": "center"},
 "encoding": {
  "x": {"field": "c", "type": "quantitative", "scale": {"domain": [-20.12, 70.7], "nice": false, "zero": false}, "axis": null},
  "y": {"field": "r", "type": "quantitative", "scale": {"domain": [-2.5, 9.113], "reverse": true, "nice": false, "zero": false}, "axis": null},
  "text": {"field": "s", "type": "nominal"},
  "color": {"condition": [
    {"test": "datum.s=='.'", "value": "#555555"},
    {"test": "indexof([[50,69],[4,5,10,12,16,18,19,20,21,25,26,27,28,29,30,32,33,36,39,40,41,42,47,50,53,54,57,58,62,69,70],[3,4,5,6,8,10,13,22,23,24,25,26,28,29,35,36,37,44,49,53,55,57,58,63,67,70],[6,7,11,12,17,19,20,21,22,25,26,27,32,45,46,48,56,57,58,63,65],[5,6,8,11,12,14,15,16,17,18,19,20,21,24,25,27,28,41,45,48,62,63,64,66,67,69,70],[3,21,22,24,25,28,29,32,33,35,38,43,47]][datum.b-1], datum.c) >= 0", "value": "#e3211c"}],
   "value": "#444444"}}},
{"transform": [{"filter": "datum.t=='s'"}, {"flatten": ["s"]}, {"window": [{"op": "row_number", "as": "c"}], "groupby": ["b", "r"]},
  {"filter": "datum.s!='.' && indexof([[50,69],[20,21,26,27,28],[23,25,26,36,37,53,55,57],[6,7,17,20,21,22,32],[16,17,28,62,63,64,69],[35,43]][datum.b-1], datum.c) >= 0"}],
 "mark": {"type": "text", "font": "Liberation Mono", "fontSize": 10.5, "fontWeight": "bold", "baseline": "middle", "align": "center", "color": "white"},
 "encoding": {
  "x": {"field": "c", "type": "quantitative", "scale": {"domain": [-20.12, 70.7], "nice": false, "zero": false}, "axis": null},
  "y": {"field": "r", "type": "quantitative", "scale": {"domain": [-2.5, 9.113], "reverse": true, "nice": false, "zero": false}, "axis": null},
  "text": {"field": "s", "type": "nominal"}}},
{"transform": [{"filter": "datum.t=='s'"}],
 "mark": {"type": "text", "font": "Liberation Sans", "fontSize": 10.5, "fontStyle": "italic", "fontWeight": "bold", "align": "left", "baseline": "middle", "color": "black"},
 "encoding": {
  "x": {"datum": -19.8, "type": "quantitative", "scale": {"domain": [-20.12, 70.7], "nice": false, "zero": false}, "axis": null},
  "y": {"field": "r", "type": "quantitative", "scale": {"domain": [-2.5, 9.113], "reverse": true, "nice": false, "zero": false}, "axis": null},
  "text": {"field": "n", "type": "nominal"}}},
{"transform": [{"filter": "datum.t=='s' && datum.n2"}],
 "mark": {"type": "text", "font": "Liberation Sans", "fontSize": 10.5, "fontWeight": "bold", "align": "left", "baseline": "middle", "color": "black"},
 "encoding": {
  "x": {"datum": -14.3, "type": "quantitative", "scale": {"domain": [-20.12, 70.7], "nice": false, "zero": false}, "axis": null},
  "y": {"field": "r", "type": "quantitative", "scale": {"domain": [-2.5, 9.113], "reverse": true, "nice": false, "zero": false}, "axis": null},
  "text": {"field": "n2", "type": "nominal"}}},
{"transform": [{"filter": "datum.t=='s'"}],
 "mark": {"type": "text", "font": "Liberation Sans", "fontSize": 10, "fontWeight": "bold", "align": "right", "baseline": "middle", "color": "black"},
 "encoding": {
  "x": {"datum": -0.9, "type": "quantitative", "scale": {"domain": [-20.12, 70.7], "nice": false, "zero": false}, "axis": null},
  "y": {"field": "r", "type": "quantitative", "scale": {"domain": [-2.5, 9.113], "reverse": true, "nice": false, "zero": false}, "axis": null},
  "text": {"field": "num", "type": "nominal"}}},
{"transform": [{"filter": "datum.t=='lab'"}],
 "mark": {"type": "text", "font": "Liberation Serif", "fontSize": 12, "align": "center", "baseline": "middle", "color": "black"},
 "encoding": {
  "x": {"field": "c", "type": "quantitative", "scale": {"domain": [-20.12, 70.7], "nice": false, "zero": false}, "axis": null},
  "y": {"datum": -2.05, "type": "quantitative", "scale": {"domain": [-2.5, 9.113], "reverse": true, "nice": false, "zero": false}, "axis": null},
  "text": {"field": "txt", "type": "nominal"}}},
{"transform": [{"filter": "datum.t=='arr'"}],
 "mark": {"type": "rule", "color": "black", "strokeWidth": 2.6},
 "encoding": {
  "x": {"field": "x1", "type": "quantitative", "scale": {"domain": [-20.12, 70.7], "nice": false, "zero": false}, "axis": null},
  "x2": {"field": "x2"},
  "y": {"datum": -1, "type": "quantitative", "scale": {"domain": [-2.5, 9.113], "reverse": true, "nice": false, "zero": false}, "axis": null}}},
{"transform": [{"filter": "datum.t=='arr'"}],
 "mark": {"type": "point", "shape": "triangle-right", "filled": true, "size": 70, "color": "black", "opacity": 1},
 "encoding": {
  "x": {"field": "h", "type": "quantitative", "scale": {"domain": [-20.12, 70.7], "nice": false, "zero": false}, "axis": null},
  "y": {"datum": -1, "type": "quantitative", "scale": {"domain": [-2.5, 9.113], "reverse": true, "nice": false, "zero": false}, "axis": null}}},
{"transform": [{"filter": "datum.t=='coil'"}],
 "mark": {"type": "text", "font": "DejaVu Sans", "fontSize": 10.5, "align": "left", "baseline": "alphabetic", "color": "#222222"},
 "encoding": {
  "x": {"field": "x1", "type": "quantitative", "scale": {"domain": [-20.12, 70.7], "nice": false, "zero": false}, "axis": null},
  "y": {"datum": -0.62, "type": "quantitative", "scale": {"domain": [-2.5, 9.113], "reverse": true, "nice": false, "zero": false}, "axis": null},
  "text": {"field": "txt", "type": "nominal"}}},
{"transform": [{"filter": "datum.t=='coil'"}],
 "mark": {"type": "rule", "color": "#222222", "strokeWidth": 0.8},
 "encoding": {
  "x": {"field": "x1", "type": "quantitative", "scale": {"domain": [-20.12, 70.7], "nice": false, "zero": false}, "axis": null},
  "x2": {"field": "x2"},
  "y": {"datum": -0.62, "type": "quantitative", "scale": {"domain": [-2.5, 9.113], "reverse": true, "nice": false, "zero": false}, "axis": null}}},
{"transform": [{"filter": "datum.t=='tt'"}],
 "mark": {"type": "text", "font": "Liberation Serif", "fontSize": 9, "fontWeight": "bold", "align": "center", "baseline": "middle", "color": "black"},
 "encoding": {
  "x": {"field": "c", "type": "quantitative", "scale": {"domain": [-20.12, 70.7], "nice": false, "zero": false}, "axis": null},
  "y": {"field": "y", "type": "quantitative", "scale": {"domain": [-2.5, 9.113], "reverse": true, "nice": false, "zero": false}, "axis": null},
  "text": {"field": "txt", "type": "nominal"}}},
{"transform": [{"filter": "datum.t=='dot'"}],
 "mark": {"type": "point", "shape": "square", "filled": true, "size": 4, "color": "black", "opacity": 1},
 "encoding": {
  "x": {"field": "c", "type": "quantitative", "scale": {"domain": [-20.12, 70.7], "nice": false, "zero": false}, "axis": null},
  "y": {"datum": 0, "type": "quantitative", "scale": {"domain": [-2.5, 9.113], "reverse": true, "nice": false, "zero": false}, "axis": null}}},
{"transform": [{"filter": "datum.t=='dia'"}],
 "mark": {"type": "point", "shape": "diamond", "filled": true, "size": 110, "color": "black", "opacity": 1},
 "encoding": {
  "x": {"field": "c", "type": "quantitative", "scale": {"domain": [-20.12, 70.7], "nice": false, "zero": false}, "axis": null},
  "y": {"datum": 10, "type": "quantitative", "scale": {"domain": [-2.5, 9.113], "reverse": true, "nice": false, "zero": false}, "axis": null}}},
{"transform": [{"filter": "datum.t=='sq'"}],
 "mark": {"type": "point", "shape": "square", "filled": false, "size": 75, "color": "black", "strokeWidth": 2.2, "opacity": 1},
 "encoding": {
  "x": {"field": "c", "type": "quantitative", "scale": {"domain": [-20.12, 70.7], "nice": false, "zero": false}, "axis": null},
  "y": {"datum": 9.9, "type": "quantitative", "scale": {"domain": [-2.5, 9.113], "reverse": true, "nice": false, "zero": false}, "axis": null}}},
{"transform": [{"filter": "datum.t=='cir'"}],
 "mark": {"type": "point", "shape": "circle", "filled": true, "size": 110, "color": "black", "opacity": 1},
 "encoding": {
  "x": {"field": "c", "type": "quantitative", "scale": {"domain": [-20.12, 70.7], "nice": false, "zero": false}, "axis": null},
  "y": {"field": "y", "type": "quantitative", "scale": {"domain": [-2.5, 9.113], "reverse": true, "nice": false, "zero": false}, "axis": null}}}
]
}
}
